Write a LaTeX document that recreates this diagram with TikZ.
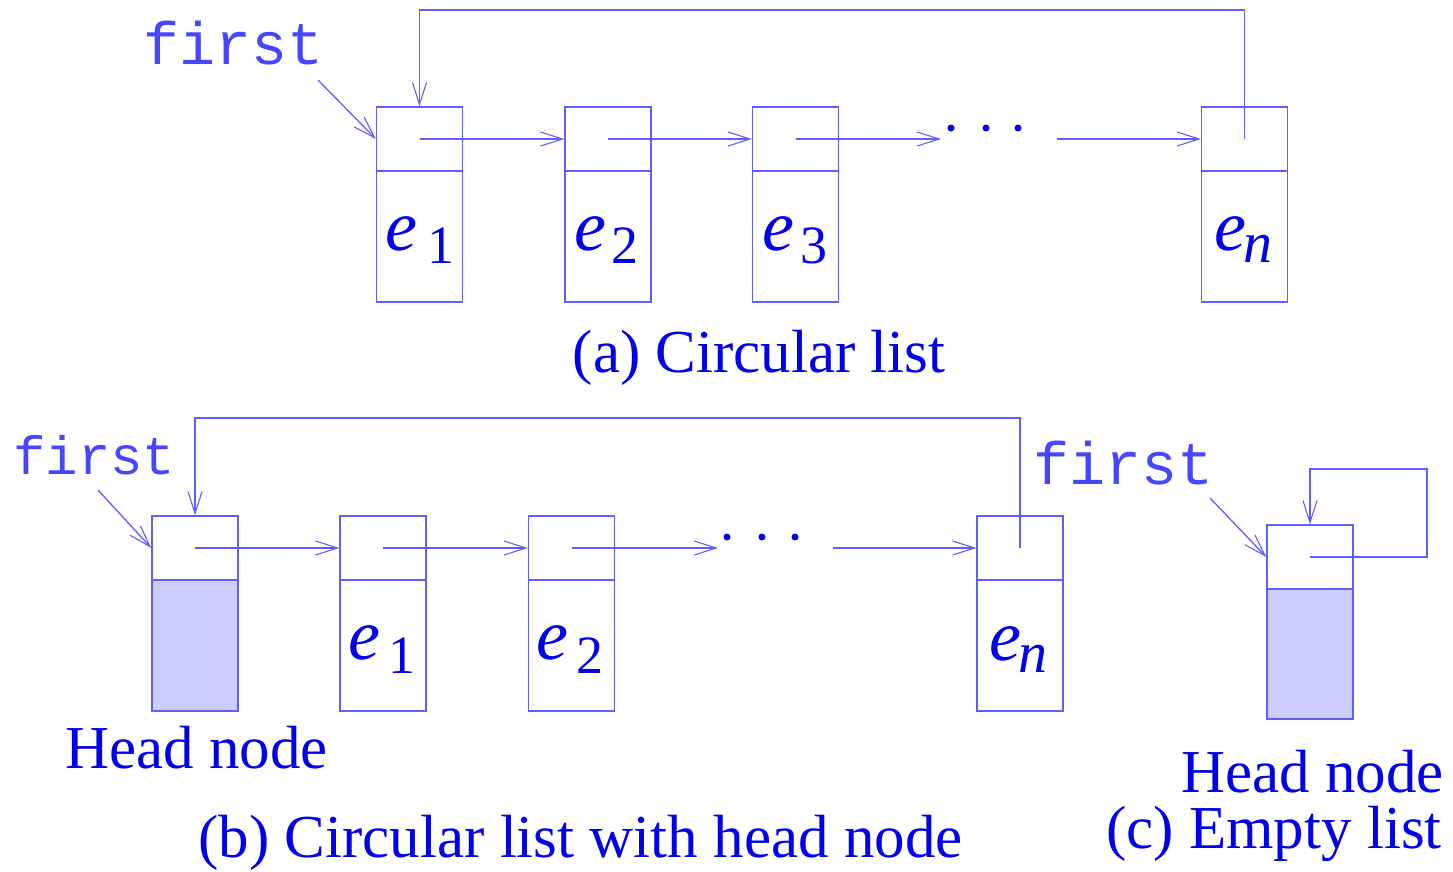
\documentclass[tikz,border=0pt]{standalone}
\usepackage{fontspec}
\setmainfont{Liberation Serif}
\newfontfamily\monof{Liberation Mono}
\usetikzlibrary{arrows.meta}
\definecolor{ln}{RGB}{95,95,255}
\definecolor{tx}{RGB}{0,0,235}
\definecolor{fx}{RGB}{70,70,255}
\definecolor{hf}{RGB}{204,204,255}
\newcommand\ebig{\fontsize{72}{72}\selectfont\itshape}
\newcommand\esub{\fontsize{54}{54}\selectfont}
\newcommand\nsub{\fontsize{58}{58}\selectfont\itshape}
\newcommand\capf{\fontsize{61}{61}\selectfont}
\newcommand\firstbig{\fontsize{60}{60}\selectfont\monof}
\newcommand\firstsmall{\fontsize{54}{54}\selectfont\monof}
\begin{document}
\begin{tikzpicture}[x=1pt,y=-1pt,
  cellp/.style={draw=ln, line width=1.3pt, inner sep=0pt, minimum width=86pt, minimum height=64pt},
  celld/.style={draw=ln, line width=1.3pt, inner sep=0pt, minimum width=86pt, minimum height=131pt},
  headd/.style={celld, fill=hf},
  ptrline/.style={draw=ln, line width=1.3pt, -{Straight Barb[length=22pt,width=14pt,line width=1.1pt]}},
  lab/.style={text=tx, inner sep=0pt},
  flab/.style={text=fx, inner sep=0pt, anchor=base west},
  dotf/.style={fill=tx}]
\useasboundingbox (0,0) rectangle (1453,871);

% ---------- (a) ----------
\node[cellp] (a1p) at (419.5,139) {};
\node[celld] (a1d) at (419.5,236.5) {};
\node[cellp] (a2p) at (608,139) {};
\node[celld] (a2d) at (608,236.5) {};
\node[cellp] (a3p) at (795.5,139) {};
\node[celld] (a3d) at (795.5,236.5) {};
\node[cellp] (anp) at (1244.5,139) {};
\node[celld] (and) at (1244.5,236.5) {};

\node[lab, anchor=base west] (a1e) at (385,250) {\ebig e};
\node[lab, anchor=base west] (a1s) at (427,263) {\esub 1};
\node[lab, anchor=base west] (a2e) at (574,250) {\ebig e};
\node[lab, anchor=base west] (a2s) at (611,263) {\esub 2};
\node[lab, anchor=base west] (a3e) at (762,250) {\ebig e};
\node[lab, anchor=base west] (a3s) at (800,263) {\esub 3};
\node[lab, anchor=base west] (ane) at (1214,250) {\ebig e};
\node[lab, anchor=base west] (ans) at (1243,262) {\nsub n};

\coordinate (adots1) at (941,139);
\coordinate (adots2) at (1057,139);
\fill[dotf] (951,128) circle (3.5);
\fill[dotf] (986,128) circle (3.5);
\fill[dotf] (1018,128) circle (3.5);

\draw[ptrline] (a1p.center) -- (a2p.west);
\draw[ptrline] (a2p.center) -- (a3p.west);
\draw[ptrline] (a3p.center) -- (adots1);
\draw[ptrline] (adots2) -- (anp.west);
\coordinate (atop) at (0,10);
\draw[ptrline] (anp.center) -- (anp.center |- atop) -- (a1p.north |- atop) -- (a1p.north);

\node[flab] (fa) at (143,64) {\firstbig first};
\coordinate (fa0) at (318,80);
\draw[ptrline] (fa0) -- (a1p.west);

\node[lab, anchor=base] (capa) at (759,372) {\capf (a) Circular list};

% ---------- (b) ----------
\node[cellp] (bhp) at (195,548) {};
\node[headd] (bhd) at (195,645.5) {};
\node[cellp] (b1p) at (383,548) {};
\node[celld] (b1d) at (383,645.5) {};
\node[cellp] (b2p) at (571.5,548) {};
\node[celld] (b2d) at (571.5,645.5) {};
\node[cellp] (bnp) at (1020,548) {};
\node[celld] (bnd) at (1020,645.5) {};

\node[lab, anchor=base west] (b1e) at (348,659) {\ebig e};
\node[lab, anchor=base west] (b1s) at (388,673) {\esub 1};
\node[lab, anchor=base west] (b2e) at (536,659) {\ebig e};
\node[lab, anchor=base west] (b2s) at (576,673) {\esub 2};
\node[lab, anchor=base west] (bne) at (989,660) {\ebig e};
\node[lab, anchor=base west] (bns) at (1018,672) {\nsub n};

\coordinate (bdots1) at (718,548);
\coordinate (bdots2) at (833,548);
\fill[dotf] (727,537) circle (3.5);
\fill[dotf] (762,537) circle (3.5);
\fill[dotf] (795,537) circle (3.5);

\draw[ptrline] (bhp.center) -- (b1p.west);
\draw[ptrline] (b1p.center) -- (b2p.west);
\draw[ptrline] (b2p.center) -- (bdots1);
\draw[ptrline] (bdots2) -- (bnp.west);
\coordinate (btop) at (0,418);
\draw[ptrline] (bnp.center) -- (bnp.center |- btop) -- (bhp.north |- btop) -- (bhp.north);

\node[flab] (fb) at (13,474) {\firstsmall first};
\coordinate (fb0) at (98,490);
\draw[ptrline] (fb0) -- (bhp.west);

\node[lab, anchor=base] (hnb) at (196.5,768) {\capf Head node};
\node[lab, anchor=base] (capb) at (580.5,857) {\capf (b) Circular list with head node};

% ---------- (c) ----------
\node[cellp] (chp) at (1310,557) {};
\node[headd, minimum height=130pt] (chd) at (1310,654) {};
\coordinate (cr1) at (1427,557);
\coordinate (cr2) at (1427,469);
\draw[ptrline] (chp.center) -- (cr1) -- (cr2) -- (chp.north |- cr2) -- (chp.north);

\node[flab] (fc) at (1033,484) {\firstbig first};
\coordinate (fc0) at (1210,498);
\draw[ptrline] (fc0) -- (chp.west);

\node[lab, anchor=base] (hnc) at (1312.5,792) {\capf Head node};
\node[lab, anchor=base] (capc) at (1274,848) {\capf (c) Empty list};
\end{tikzpicture}
\end{document}
